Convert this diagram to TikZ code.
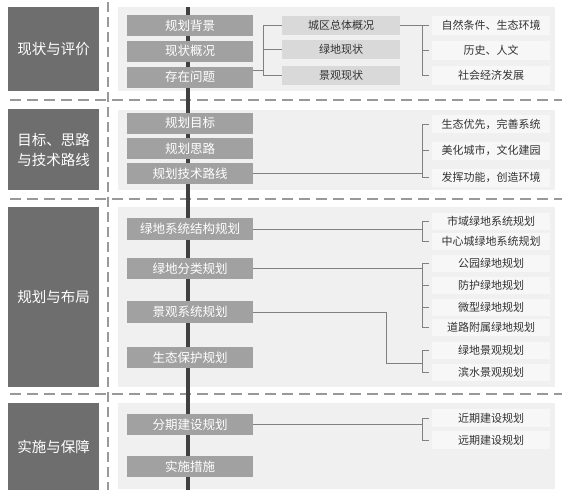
\documentclass[tikz,border=0pt]{standalone}
\usepackage{fontspec}
\setmainfont{Noto Sans CJK SC}
\usetikzlibrary{calc}
\newcommand{\stageFill}{black!57}
\newcommand{\panelFill}{black!6}
\newcommand{\topicFill}{black!37}
\newcommand{\subFill}{black!15}
\newcommand{\leafFill}{white!97!black}
\newcommand{\linkColor}{black!50}
\newcommand{\sepColor}{black!40}

\begin{document}
\begin{tikzpicture}[x=1pt,y=-1pt,
	every node/.style={inner sep=0pt,outer sep=0pt},
	stage/.style={fill=\stageFill,text=white,minimum width=91pt,align=center,font=\fontsize{14.5}{20}\selectfont},
	panel/.style={fill=\panelFill,minimum width=437pt},
	topic/.style={fill=\topicFill,text=white,minimum width=126pt,minimum height=21pt,font=\fontsize{12.5}{14}\selectfont},
	subbox/.style={fill=\subFill,text=black!80,minimum width=118pt,minimum height=19pt,font=\fontsize{11}{13}\selectfont},
	leaf/.style={fill=\leafFill,text=black!80,minimum width=118pt,minimum height=18pt,font=\fontsize{11}{13}\selectfont},
	link/.style={draw=\linkColor,line width=0.8pt},
	sep/.style={draw=\sepColor,line width=1.4pt,dash pattern=on 11pt off 6pt}]
	\useasboundingbox (0,0) rectangle (562,490);
	
	% panels
	\node[panel,minimum height=84pt] (p1) at (336.5,49) {};
	\node[panel,minimum height=80pt] (p2) at (336.5,150) {};
	\node[panel,minimum height=180pt] (p3) at (336.5,297) {};
	\node[panel,minimum height=86pt] (p4) at (336.5,446) {};
	
	% separators
	\coordinate (hl) at (10,0);
	\coordinate (hr) at (562,0);
	\foreach \y in {100,199,394}
		\draw[sep] ($(hl)+(0,\y)$) -- ($(hr)+(0,\y)$);
	\coordinate (vt) at (108,2);
	\coordinate (vb) at (108,490);
	\draw[sep,dash pattern=on 10pt off 5pt] (vt) -- (vb);
	
	% spine
	\coordinate (st) at (188,7);
	\coordinate (sb) at (188,490);
	\draw[black!75,line width=3.5pt] (st) -- (sb);
	
	% stages
	\node[stage,minimum height=84pt] (s1) at (53.5,49) {现状与评价};
	\node[stage,minimum height=81pt] (s2) at (53.5,149.5) {目标、思路\\与技术路线};
	\node[stage,minimum height=180pt] (s3) at (53.5,297) {规划与布局};
	\node[stage,minimum height=87pt] (s4) at (53.5,446.5) {实施与保障};
	
	% topics
	\node[topic] (t1) at (190,25.5) {规划背景};
	\node[topic] (t2) at (190,51) {现状概况};
	\node[topic] (t3) at (190,77) {存在问题};
	\node[topic] (t4) at (190,123) {规划目标};
	\node[topic] (t5) at (190,148.5) {规划思路};
	\node[topic] (t6) at (190,173.5) {规划技术路线};
	\node[topic,minimum height=22pt] (t7) at (190,229) {绿地系统结构规划};
	\node[topic] (t8) at (190,268.5) {绿地分类规划};
	\node[topic,minimum height=22pt] (t9) at (190,312) {景观系统规划};
	\node[topic] (t10) at (190,357.5) {生态保护规划};
	\node[topic] (t11) at (190,424.5) {分期建设规划};
	\node[topic] (t12) at (190,466.5) {实施措施};
	
	% middle column
	\node[subbox] (m1) at (341,25.5) {城区总体概况};
	\node[subbox] (m2) at (341,49.5) {绿地现状};
	\node[subbox] (m3) at (341,75.5) {景观现状};
	
	% leaves
	\node[leaf,minimum height=19pt] (l1) at (491,25.5) {自然条件、生态环境};
	\node[leaf,minimum height=19pt] (l2) at (491,50.5) {历史、人文};
	\node[leaf,minimum height=19pt] (l3) at (491,75.5) {社会经济发展};
	\node[leaf] (l4) at (491,124) {生态优先，完善系统};
	\node[leaf] (l5) at (491,150.5) {美化城市，文化建园};
	\node[leaf] (l6) at (491,177.5) {发挥功能，创造环境};
	\node[leaf,minimum height=17pt] (l7) at (491,221) {市域绿地系统规划};
	\node[leaf,minimum height=17pt] (l8) at (491,241.5) {中心城绿地系统规划};
	\node[leaf,minimum height=17pt] (l9) at (491,263.5) {公园绿地规划};
	\node[leaf,minimum height=17pt] (l10) at (491,285) {防护绿地规划};
	\node[leaf,minimum height=17pt] (l11) at (491,307) {微型绿地规划};
	\node[leaf,minimum height=17pt] (l12) at (491,327) {道路附属绿地规划};
	\node[leaf,minimum height=17pt] (l13) at (491,350.5) {绿地景观规划};
	\node[leaf,minimum height=17pt] (l14) at (491,372.5) {滨水景观规划};
	\node[leaf] (l15) at (491,418) {近期建设规划};
	\node[leaf] (l16) at (491,440) {远期建设规划};
	
	% brackets
	\coordinate (ka) at (263,0);
	\coordinate (kb) at (422,0);
	\coordinate (kc) at (386,0);
	
	\draw[link] ([yshift=7pt]t3.east) -- ([yshift=7pt]t3.east -| ka);
	\draw[link] (m1.west) -- (m1.west -| ka) -- (m3.west -| ka) -- (m3.west);
	\draw[link] (m2.west) -- (m2.west -| ka);
	
	\draw[link] (m1.east) -- (l1.west -| kb);
	\draw[link] (l1.west) ++(-3,0) -- (l1.west -| kb) -- (l3.west -| kb) -- ++(7,0);
	\draw[link] (l2.west -| kb) -- ++(7,0);
	
	\draw[link] (t6.east) -- (t6.east -| kb);
	\draw[link] ($(l4.west)+(-3,0)$) -- (l4.west -| kb) -- (l6.west -| kb) -- ++(7,0);
	\draw[link] (l5.west -| kb) -- ++(7,0);
	
	\draw[link] (t7.east) -- (t7.east -| kb);
	\draw[link] ($(l7.west)+(-3,0)$) -- (l7.west -| kb) -- (l8.west -| kb) -- ++(7,0);
	
	\draw[link] (t8.east) -- (t8.east -| kb);
	\draw[link] ($(l9.west)+(-3,0)$) -- (l9.west -| kb) -- (l12.west -| kb) -- ++(7,0);
	\foreach \n in {l10,l11}
		\draw[link] (\n.west -| kb) -- ++(7,0);
	
	\draw[link] (t9.east) -- (t9.east -| kc) -- ($(kc)+(0,363)$) -- ($(kb)+(0,363)$);
	\draw[link] ($(l13.west)+(-3,0)$) -- (l13.west -| kb) -- (l14.west -| kb) -- ++(7,0);
	
	\draw[link] (t11.east) -- (t11.east -| kb);
	\draw[link] ($(l15.west)+(-3,0)$) -- (l15.west -| kb) -- (l16.west -| kb) -- ++(7,0);
\end{tikzpicture}
\end{document}
